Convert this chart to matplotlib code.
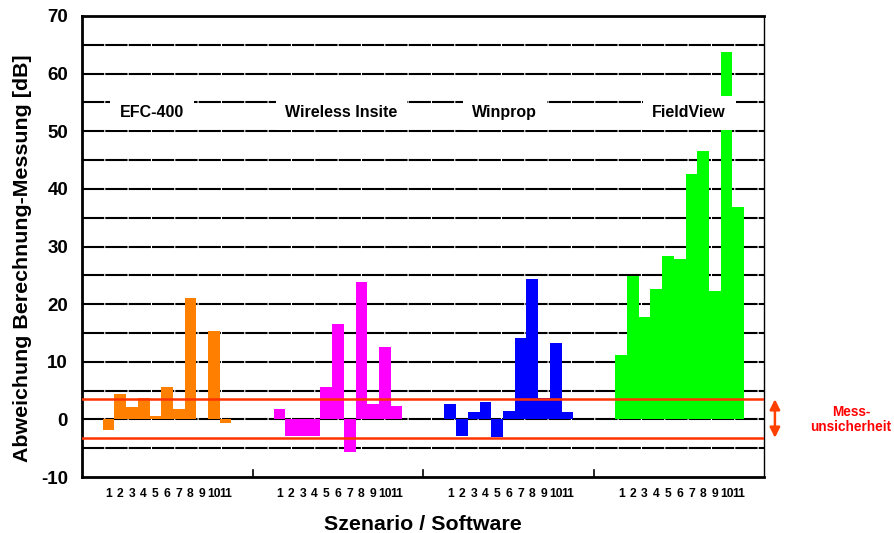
import matplotlib
matplotlib.use("Agg")
import matplotlib.pyplot as plt
import matplotlib.transforms as mtransforms

plt.rcParams['font.family'] = ['Liberation Sans', 'DejaVu Sans']
plt.rcParams['lines.scale_dashes'] = False

software = ["EFC-400", "Wireless Insite", "Winprop", "FieldView"]
scenarios = ["1", "2", "3", "4", "5", "6", "7", "8", "9", "10", "11"]
efc400 = [-1.8, 4.4, 2.2, 3.7, 0.6, 5.6, 1.8, 21.0, 0.0, 15.4, -0.55]
wireless = [1.8, -2.8, -2.8, -2.8, 5.6, 16.5, -5.7, 23.9, 2.6, 12.5, 2.3]
winprop = [2.6, -2.8, 1.2, 3.1, -3.0, 1.4, 14.2, 24.4, 3.7, 13.3, 1.2]
fieldview = [11.2, 24.8, 17.8, 22.7, 28.3, 27.8, 42.6, 46.5, 22.2, 63.7, 36.9]
series = [efc400, wireless, winprop, fieldview]
colors = ["#ff8000", "#ff00ff", "#0000ff", "#00ff00"]
unc_upper = 3.5
unc_lower = -3.2
yticks = [-10, 0, 10, 20, 30, 40, 50, 60, 70]

group_step = 14.6
fig = plt.figure(figsize=(8.95, 5.33), dpi=100)
ax = fig.add_axes([82/895, 1-477/533, (764-82)/895, (477-16)/533])

# grid lines
for v in range(-5, 70, 5):
    ln = ax.axhline(v, color="black", lw=1.5, zorder=1)
    ln.set_dashes((16, 0.8))

xt, xl = [], []
for g, (vals, col) in enumerate(zip(series, colors)):
    xs = [g*group_step + i + 0.5 for i in range(len(vals))]
    ax.bar(xs, vals, width=1.0, color=col, edgecolor='none', zorder=2)
    xt += xs
    xl += scenarios

# uncertainty lines
ax.axhline(unc_upper, color="#ff3300", lw=1.8, zorder=3)
ax.axhline(unc_lower, color="#ff3300", lw=1.8, zorder=3)

# group labels
label_x = [4.21, 20.4, 34.36, 50.1]
for lx, name in zip(label_x, software):
    ax.text(lx, 53.2, name, ha='center', va='center', fontsize=11.5,
            fontweight='bold', zorder=5,
            bbox=dict(boxstyle='square,pad=0.6', fc='white', ec='none'))

ax.set_xlim(-1.77, 56.5)
ax.set_ylim(-10, 70)
ax.set_yticks(yticks)
ax.set_yticklabels([str(v) for v in yticks], fontsize=13.5, fontweight='bold')
ax.tick_params(axis='y', length=0, pad=10)
ax.set_xticks(xt)
ax.set_xticklabels(xl, fontsize=8.7, fontweight='bold')
ax.tick_params(axis='x', length=0, pad=8)
# group separators
for g in range(3):
    ax.plot([g*group_step + 12.8]*2, [-10, -8.7], color='black', lw=1.2,
            zorder=4, clip_on=False)

for s in ['left', 'bottom', 'top']:
    ax.spines[s].set_linewidth(2.0)
ax.spines['right'].set_linewidth(1.0)

ax.set_ylabel("Abweichung Berechnung-Messung [dB]", fontsize=15.4,
              fontweight='bold')
ax.yaxis.set_label_coords(-0.074, 0.475)
ax.set_xlabel("Szenario / Software", fontsize=15.4, fontweight='bold', labelpad=11)

trans = mtransforms.blended_transform_factory(ax.transAxes, ax.transData)
ax.annotate("", xy=(1.016, unc_lower), xytext=(1.016, unc_upper),
            xycoords=trans, textcoords=trans,
            arrowprops=dict(arrowstyle='<|-|>', color='#ff4000', lw=1.8,
                            mutation_scale=15, shrinkA=0, shrinkB=0))
ax.text(1.1275, 0.0, "Mess-\nunsicherheit", transform=trans, ha='center',
        va='center', color='#ff0000', fontsize=9.8, fontweight='bold',
        linespacing=1.15)

fig.savefig("out.png", dpi=100)
